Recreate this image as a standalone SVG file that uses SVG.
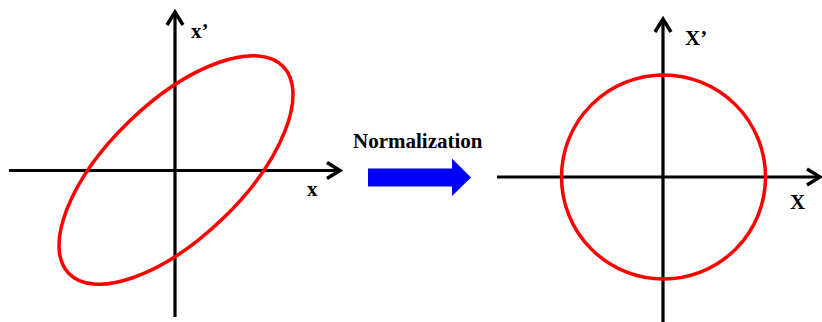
<svg xmlns="http://www.w3.org/2000/svg" width="822" height="322" viewBox="0 0 822 322">
  <style>
    .axis { stroke: #000; stroke-width: 3.2; fill: none; }
    .curve { stroke: #ff0000; stroke-width: 3.5; fill: none; }
    .lbl { font-family: "Liberation Serif", "Times New Roman", serif; font-weight: bold; font-size: 21px; fill: #000; }
  </style>
  <defs>
    <marker id="head" markerUnits="userSpaceOnUse" viewBox="-16 -11 20 22" refX="0" refY="0" markerWidth="20" markerHeight="22" orient="auto" overflow="visible">
      <path d="M-13,-8 L0,0 L-13,8" fill="none" stroke="#000" stroke-width="3.5"/>
    </marker>
  </defs>
  <rect width="822" height="322" fill="#fff"/>
  <g id="connectors">
    <line class="axis" x1="9" y1="170.5" x2="340" y2="170.5" marker-end="url(#head)"/>
    <line class="axis" x1="175" y1="317" x2="175" y2="12" marker-end="url(#head)"/>
    <line class="axis" x1="497" y1="177" x2="820" y2="177" marker-end="url(#head)"/>
    <line class="axis" x1="663" y1="322" x2="663" y2="19" marker-end="url(#head)"/>
  </g>
  <g id="left-ellipse">
    <ellipse class="curve" cx="176" cy="170" rx="149" ry="67.5" transform="rotate(-44 176 170)"/>
  </g>
  <g id="left-labels">
    <text class="lbl" x="191" y="38">x’</text>
    <text class="lbl" x="307" y="196">x</text>
  </g>
  <g id="normalization">
    <text class="lbl" x="353" y="148">Normalization</text>
    <polygon points="368,168.5 452,168.5 452,158.5 471,177.5 452,196 452,186.5 368,186.5" fill="#0000ff"/>
  </g>
  <g id="right-circle">
    <circle class="curve" cx="663.5" cy="177" r="102"/>
  </g>
  <g id="right-labels">
    <text class="lbl" x="685" y="45">X’</text>
    <text class="lbl" x="790" y="209">X</text>
  </g>
</svg>
